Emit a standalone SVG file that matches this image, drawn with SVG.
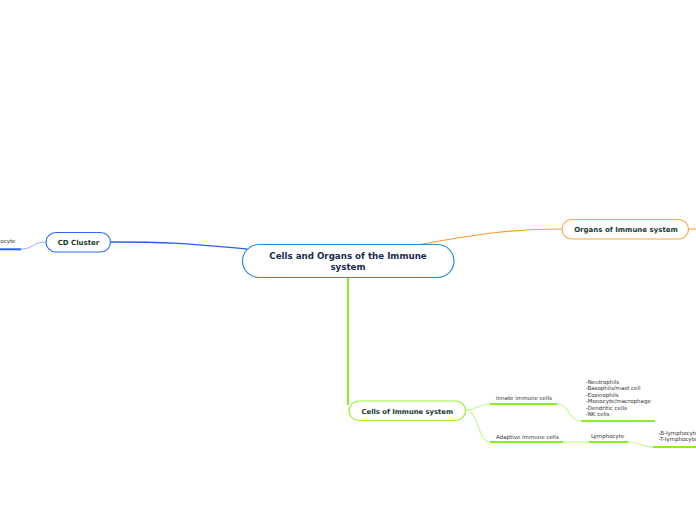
<svg xmlns="http://www.w3.org/2000/svg" width="696" height="520" viewBox="0 0 696 520">
<style>
.node{fill:#ffffff;stroke-width:1.2}
.title{font-family:"DejaVu Sans",Verdana,sans-serif;font-weight:bold;fill:#173a2e;text-anchor:middle}
.small{font-family:"DejaVu Sans",Verdana,sans-serif;font-size:5.5px;fill:#333333}
.ul{fill:none;stroke:#88ee22;stroke-width:2}
.lc{fill:none;stroke:#c6f59a;stroke-width:1.2}
</style>
<rect width="696" height="520" fill="#ffffff"/>
<g id="connectors">
  <path d="M110,242 C180,242 200,245 247,249" fill="none" stroke="#2a5fe8" stroke-width="1.3"/>
  <path d="M21,249 C34,249 32,242 46,242" fill="none" stroke="#8fb0f5" stroke-width="1"/>
  <path d="M0,249.3 L21,249.3" fill="none" stroke="#2a5fe8" stroke-width="2"/>
  <path d="M422,244 C480,234 510,229 562,229" fill="none" stroke="#f5a030" stroke-width="1.2"/>
  <path d="M688,229 L696,229" fill="none" stroke="#f5a030" stroke-width="1"/>
  <path d="M348,277 L348,405" fill="none" stroke="#88ee22" stroke-width="2"/>
  <path d="M466,410 C478,410 478,404 490,404" class="lc"/>
  <path d="M466,410 C478,410 478,442 490,442" class="lc"/>
  <path d="M490,404 L557,404" class="ul"/>
  <path d="M557,404 C570,404 568,421 581,421" class="lc"/>
  <path d="M581,421 L655,421" class="ul"/>
  <path d="M490,442 L563,442" class="ul"/>
  <path d="M563,442 L589,442" class="lc"/>
  <path d="M589,442 L628,442" class="ul"/>
  <path d="M628,442 C641,442 640,447 653,447" class="lc"/>
  <path d="M653,447 L696,447" class="ul"/>
</g>
<g id="central">
  <rect class="node" x="242.5" y="244.5" width="211.5" height="33" rx="16.5" stroke="#2f8bd0"/>
  <text class="title" x="348" y="259" font-size="8.7" style="fill:#1b2a4e">Cells and Organs of the Immune</text>
  <text class="title" x="348" y="270" font-size="8.7" style="fill:#1b2a4e">system</text>
</g>
<g id="cd-cluster">
  <rect class="node" x="46" y="232.5" width="64.5" height="19.5" rx="9.75" stroke="#2c6cf5"/>
  <text class="title" x="78.5" y="245" font-size="7">CD Cluster</text>
</g>
<g id="cd-child">
  <text class="small" x="0.3" y="242.7">ocyte</text>
</g>
<g id="organs">
  <rect class="node" x="562" y="219.5" width="126.5" height="19.5" rx="9.75" stroke="#f7a840"/>
  <text class="title" x="626" y="231.7" font-size="7">Organs of Immune system</text>
</g>
<g id="cells">
  <rect class="node" x="349" y="401" width="116.5" height="19.5" rx="9.75" stroke="#99f033"/>
  <text class="title" x="407.3" y="413.7" font-size="6.8">Cells of Immune system</text>
</g>
<g id="innate">
  <text class="small" x="496" y="400">Innate immune cells</text>
</g>
<g id="innate-list">
  <text class="small" x="585.7" y="383.7">-Neutrophils</text>
  <text class="small" x="585.7" y="390.2">-Basophils/mast cell</text>
  <text class="small" x="585.7" y="396.7">-Eosinophils</text>
  <text class="small" x="585.7" y="403.2">-Monocyte/macrophage</text>
  <text class="small" x="585.7" y="409.7">-Dendritic cells</text>
  <text class="small" x="585.7" y="416.2">-NK cells</text>
</g>
<g id="adaptive">
  <text class="small" x="496" y="438.8">Adaptive immune cells</text>
</g>
<g id="lymphocyte">
  <text class="small" x="591" y="437.7">Lymphocyte</text>
</g>
<g id="lymph-list">
  <text class="small" x="658.5" y="435">-B-lymphocyte</text>
  <text class="small" x="658.5" y="441">-T-lymphocyte</text>
</g>
</svg>
